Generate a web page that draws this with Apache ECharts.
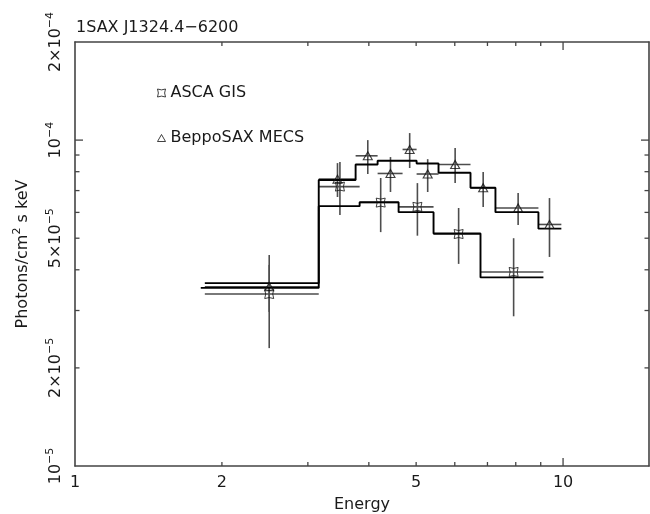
<!DOCTYPE html>
<html><head><meta charset="utf-8">
<script src="https://cdn.jsdelivr.net/npm/echarts@6/dist/echarts.min.js"></script>
<style>html,body{margin:0;padding:0;background:#fff}#c{width:650px;height:514px}</style>
</head><body><div id="c"></div>
<script>
// ---- ASCA GIS (squares) ----
const ascaEnergy   = [2.50, 3.49, 4.23, 5.03, 6.11, 7.92];
const ascaEnergyLo = [1.845, 3.158, 3.83, 4.603, 5.428, 6.774];
const ascaEnergyHi = [3.158, 3.83, 4.603, 5.428, 6.774, 9.115];
const ascaFlux     = [3.37e-5, 7.20e-5, 6.43e-5, 6.24e-5, 5.15e-5, 3.94e-5];
const ascaFluxLo   = [2.30e-5, 5.89e-5, 5.22e-5, 5.09e-5, 4.17e-5, 2.88e-5];
const ascaFluxHi   = [4.44e-5, 8.56e-5, 7.65e-5, 7.38e-5, 6.19e-5, 5.00e-5];
const ascaModelEdges  = [1.81, 3.158, 3.83, 4.603, 5.428, 6.774, 9.115];
const ascaModelLevels = [3.52e-5, 6.27e-5, 6.45e-5, 6.01e-5, 5.17e-5, 3.79e-5];

// ---- BeppoSAX MECS (triangles) ----
const mecsEnergy   = [2.50, 3.45, 3.98, 4.43, 4.85, 5.28, 6.01, 6.86, 8.09, 9.38];
const mecsEnergyLo = [1.845, 3.158, 3.758, 4.169, 4.690, 5.011, 5.557, 6.462, 7.269, 8.903];
const mecsEnergyHi = [3.158, 3.758, 4.169, 4.690, 5.011, 5.557, 6.462, 7.269, 8.903, 9.920];
const mecsFlux     = [3.55e-5, 7.59e-5, 8.95e-5, 7.90e-5, 9.36e-5, 7.87e-5, 8.42e-5, 7.14e-5, 6.19e-5, 5.51e-5];
const mecsFluxLo   = [2.97e-5, 6.69e-5, 7.87e-5, 6.93e-5, 8.21e-5, 6.93e-5, 7.38e-5, 6.23e-5, 5.49e-5, 4.38e-5];
const mecsFluxHi   = [4.14e-5, 8.50e-5, 10.0e-5, 8.87e-5, 10.51e-5, 8.74e-5, 9.45e-5, 7.98e-5, 6.88e-5, 6.64e-5];
const mecsModelEdges  = [1.845, 3.158, 3.758, 4.169, 4.690, 5.011, 5.557, 6.462, 7.269, 8.903, 9.920];
const mecsModelLevels = [3.64e-5, 7.54e-5, 8.42e-5, 8.64e-5, 8.64e-5, 8.48e-5, 7.94e-5, 7.14e-5, 6.01e-5, 5.35e-5];

// ---- axes ----
const xMin = 1, xMax = 15, yMin = 1e-5, yMax = 2e-4;
const xTickMajor = [10];
const xTickMinor = [2, 3, 4, 5, 6, 7, 8, 9];
const xLabelValues = [1, 2, 5, 10];
const yTickMajor = [1e-4];
const yTickMinor = [2e-5, 3e-5, 4e-5, 5e-5, 6e-5, 7e-5, 8e-5, 9e-5];
const yLabelValues = [1e-5, 2e-5, 5e-5, 1e-4, 2e-4];

const FONT = 'DejaVu Sans';
const TXT = '#1a1a1a';
const AXC = '#444';
const squarePath = 'path://M0,0 Q5,2.2 10,0 Q7.8,5 10,10 Q5,7.8 0,10 Q2.2,5 0,0 Z';

function fmtY(v) {
  const exp = Math.floor(Math.log10(v) + 1e-9);
  const mant = Math.round(v / Math.pow(10, exp));
  return (mant === 1 ? '' : mant + '×') + '10{sup|−' + (-exp) + '}';
}

function errorSeries(E, ELo, EHi, F, FLo, FHi) {
  return {
    type: 'custom', silent: true, z: 2,
    data: E.map((e, i) => [e, F[i], ELo[i], EHi[i], FLo[i], FHi[i]]),
    encode: { x: 0, y: 1 },
    renderItem(params, api) {
      const e = api.value(0), f = api.value(1);
      const a = api.coord([api.value(2), f]), b = api.coord([api.value(3), f]);
      const c = api.coord([e, api.value(4)]), d = api.coord([e, api.value(5)]);
      const st = { stroke: '#4d4d4d', lineWidth: 1.6 };
      return { type: 'group', children: [
        { type: 'line', shape: { x1: a[0], y1: a[1], x2: b[0], y2: b[1] }, style: st },
        { type: 'line', shape: { x1: c[0], y1: c[1], x2: d[0], y2: d[1] }, style: st }
      ]};
    }
  };
}

function modelSeries(edges, levels) {
  return {
    type: 'line', step: 'end', silent: true, z: 3, showSymbol: false,
    data: edges.map((e, i) => [e, levels[Math.min(i, levels.length - 1)]]),
    lineStyle: { color: '#000', width: 1.9 }
  };
}

const tickSeries = {
  type: 'custom', silent: true, z: 5,
  data: [[xMin, yMin]],
  encode: { x: 0, y: 1 },
  renderItem(params, api) {
    const bl = api.coord([xMin, yMin]), tr = api.coord([xMax, yMax]);
    const ch = [];
    const add = (x1, y1, x2, y2) => ch.push({ type: 'line', shape: { x1, y1, x2, y2 }, style: { stroke: AXC, lineWidth: 1.3 } });
    const xt = (v, len) => { const x = api.coord([v, yMin])[0]; add(x, bl[1], x, bl[1] - len); add(x, tr[1], x, tr[1] + len); };
    const yt = (v, len) => { const y = api.coord([xMin, v])[1]; add(bl[0], y, bl[0] + len, y); add(tr[0], y, tr[0] - len, y); };
    xTickMinor.forEach(v => xt(v, 4));
    xTickMajor.forEach(v => xt(v, 8));
    yTickMinor.forEach(v => yt(v, 4.5));
    yTickMajor.forEach(v => yt(v, 8));
    return { type: 'group', children: ch };
  }
};

const baseX = { type: 'log', logBase: 10, min: xMin, max: xMax, splitLine: { show: false }, axisTick: { show: false }, axisLine: { show: true, onZero: false, lineStyle: { color: AXC, width: 1.6 } } };
const baseY = { type: 'log', logBase: 10, min: yMin, max: yMax, splitLine: { show: false }, axisTick: { show: false }, axisLine: { show: true, onZero: false, lineStyle: { color: AXC, width: 1.6 } } };

const chart = echarts.init(document.getElementById('c'), null, { renderer: 'canvas' });
chart.setOption({
  animation: false,
  backgroundColor: '#fff',
  title: { text: '1SAX J1324.4−6200', left: 76, top: 20, padding: 0,
    textStyle: { fontSize: 16, fontWeight: 'normal', fontFamily: FONT, color: TXT } },
  legend: [
    { data: [{ name: 'ASCA GIS', icon: squarePath }], left: 157, top: 85, padding: 0, itemWidth: 8, itemHeight: 8, selectedMode: false,
      itemStyle: { color: 'transparent', borderColor: '#111', borderWidth: 1 },
      textStyle: { fontSize: 16, fontFamily: FONT, color: TXT } },
    { data: [{ name: 'BeppoSAX MECS', icon: 'triangle' }], left: 157, top: 130, padding: 0, itemWidth: 8, itemHeight: 7, selectedMode: false,
      itemStyle: { color: 'transparent', borderColor: '#111', borderWidth: 1 },
      textStyle: { fontSize: 16, fontFamily: FONT, color: TXT } }
  ],
  grid: { left: 75, right: 1, top: 42, bottom: 48, containLabel: false, outerBoundsMode: 'none' },
  xAxis: [
    Object.assign({}, baseX, { position: 'bottom', name: 'Energy', nameLocation: 'middle', nameGap: 31,
      nameTextStyle: { fontSize: 16, fontFamily: FONT, color: TXT },
      axisLabel: { customValues: xLabelValues, margin: 9, fontSize: 16, fontFamily: FONT, color: TXT,
        formatter: v => String(Math.round(v)) } }),
    Object.assign({}, baseX, { position: 'top', axisLabel: { show: false } })
  ],
  yAxis: [
    Object.assign({}, baseY, { position: 'left', name: 'Photons/cm{sup|2} s keV', nameLocation: 'middle', nameGap: 42,
      nameTextStyle: { fontSize: 16, fontFamily: FONT, color: TXT,
        rich: { sup: { fontSize: 11, fontFamily: FONT, color: TXT, padding: [0, 0, 10, 0] } } },
      axisLabel: { customValues: yLabelValues, rotate: 90, margin: 9, fontSize: 16, fontFamily: FONT, color: TXT,
        formatter: fmtY,
        rich: { sup: { fontSize: 11, fontFamily: FONT, color: TXT, padding: [0, 0, 10, 0] } } } }),
    Object.assign({}, baseY, { position: 'right', axisLabel: { show: false } })
  ],
  series: [
    Object.assign(errorSeries(ascaEnergy, ascaEnergyLo, ascaEnergyHi, ascaFlux, ascaFluxLo, ascaFluxHi), { name: 'ASCA GIS err' }),
    Object.assign(errorSeries(mecsEnergy, mecsEnergyLo, mecsEnergyHi, mecsFlux, mecsFluxLo, mecsFluxHi), { name: 'MECS err' }),
    Object.assign(modelSeries(ascaModelEdges, ascaModelLevels), { name: 'ASCA model' }),
    Object.assign(modelSeries(mecsModelEdges, mecsModelLevels), { name: 'MECS model' }),
    { name: 'ASCA GIS', type: 'scatter', z: 4, silent: true, symbol: squarePath, symbolSize: 9,
      data: ascaEnergy.map((e, i) => [e, ascaFlux[i]]),
      itemStyle: { color: 'transparent', borderColor: '#111', borderWidth: 1 } },
    { name: 'BeppoSAX MECS', type: 'scatter', z: 4, silent: true, symbol: 'triangle', symbolSize: [9, 8],
      data: mecsEnergy.map((e, i) => [e, mecsFlux[i]]),
      itemStyle: { color: 'transparent', borderColor: '#111', borderWidth: 1.1 } },
    tickSeries
  ]
});
</script>
</body></html>
